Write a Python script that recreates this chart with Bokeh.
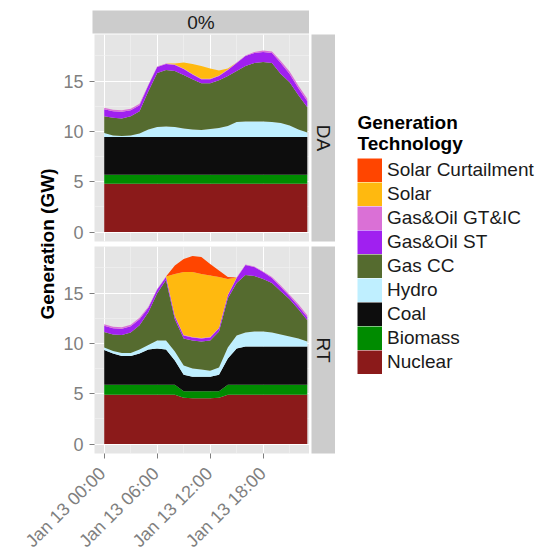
from math import pi
from bokeh.plotting import figure
from bokeh.models import (ColumnDataSource, Range1d, FixedTicker, Legend, LegendItem,
                          Label, Spacer, Grid)
from bokeh.layouts import row, column
from bokeh.embed import file_html
from bokeh.resources import INLINE

FONT = "Liberation Sans"

# ---------------- data ----------------
hours = [0, 1, 2, 3, 4, 5, 6, 7, 8, 9, 10, 11, 12, 13, 14, 15, 16, 17, 18, 19, 20, 21, 22, 23]
tick_hours = [0, 6, 12, 18]
tick_labels = ["Jan 13 00:00", "Jan 13 06:00", "Jan 13 12:00", "Jan 13 18:00"]

technologies = ["Nuclear", "Biomass", "Coal", "Hydro", "Gas CC", "Gas&Oil ST",
                "Gas&Oil GT&IC", "Solar", "Solar Curtailment"]
keys = ["nuclear", "biomass", "coal", "hydro", "gascc", "st", "gt", "solar", "curt"]
colors = ["#8B1A1A", "#008B00", "#0D0D0D", "#BFEFFF", "#556B2F", "#A020F0",
          "#DA70D6", "#FFB90F", "#FF4500"]

# Day-ahead (DA), GW
da_nuclear = [4.8, 4.8, 4.8, 4.8, 4.8, 4.8, 4.8, 4.8, 4.8, 4.8, 4.8, 4.8,
              4.8, 4.8, 4.8, 4.8, 4.8, 4.8, 4.8, 4.8, 4.8, 4.8, 4.8, 4.8]
da_biomass = [0.9, 0.9, 0.9, 0.9, 0.9, 0.9, 0.9, 0.9, 0.9, 0.9, 0.9, 0.9,
              0.9, 0.9, 0.9, 0.9, 0.9, 0.9, 0.9, 0.9, 0.9, 0.9, 0.9, 0.9]
da_coal = [3.75, 3.75, 3.75, 3.75, 3.75, 3.75, 3.75, 3.75, 3.75, 3.75, 3.75, 3.75,
           3.75, 3.75, 3.75, 3.75, 3.75, 3.75, 3.75, 3.75, 3.75, 3.75, 3.75, 3.75]
da_hydro = [0.4, 0.15, 0.1, 0.15, 0.35, 0.75, 1.0, 1.05, 1.0, 0.85, 0.75, 0.7,
            0.8, 0.9, 1.1, 1.5, 1.55, 1.55, 1.55, 1.5, 1.4, 1.15, 0.75, 0.45]
da_gascc = [1.65, 1.75, 1.75, 1.9, 2.2, 3.8, 5.35, 5.6, 5.55, 5.3, 5.0, 4.65,
            4.55, 4.75, 4.95, 5.05, 5.5, 5.8, 5.9, 5.85, 4.85, 4.3, 3.4, 2.5]
da_st = [0.7, 0.65, 0.65, 0.6, 0.6, 0.6, 0.6, 0.6, 0.6, 0.6, 0.45, 0.4,
         0.4, 0.4, 0.6, 0.8, 1.0, 1.0, 1.0, 1.0, 1.1, 0.8, 0.7, 0.6]
da_gt = [0.15, 0.15, 0.15, 0.15, 0.15, 0.05, 0.05, 0.05, 0.05, 0.05, 0.05, 0.05,
         0.05, 0.05, 0.05, 0.05, 0.05, 0.1, 0.15, 0.15, 0.2, 0.25, 0.25, 0.25]
da_solar = [0, 0, 0, 0, 0, 0, 0, 0, 0.1, 0.6, 1.0, 1.25,
            1.0, 0.5, 0.1, 0, 0, 0, 0, 0, 0, 0, 0, 0]
da_curt = [0, 0, 0, 0, 0, 0, 0, 0, 0, 0, 0, 0,
           0, 0, 0, 0, 0, 0, 0, 0, 0, 0, 0, 0]

# Real-time (RT), GW
rt_nuclear = [4.9, 4.9, 4.9, 4.9, 4.9, 4.9, 4.9, 4.9, 4.9, 4.6, 4.55, 4.55,
              4.55, 4.6, 4.9, 4.9, 4.9, 4.9, 4.9, 4.9, 4.9, 4.9, 4.9, 4.9]
rt_biomass = [1.0, 1.0, 1.0, 1.0, 1.0, 1.0, 1.0, 1.0, 1.0, 0.65, 0.7, 0.7,
              0.7, 0.65, 1.0, 1.0, 1.0, 1.0, 1.0, 1.0, 1.0, 1.0, 1.0, 1.0]
rt_coal = [3.45, 3.1, 2.85, 2.85, 3.1, 3.5, 3.6, 3.5, 2.4, 1.65, 1.45, 1.45,
           1.45, 1.65, 2.6, 3.6, 3.8, 3.8, 3.8, 3.8, 3.8, 3.8, 3.8, 3.8]
rt_hydro = [0.25, 0.25, 0.3, 0.3, 0.4, 0.45, 0.8, 0.9, 0.9, 0.9, 0.8, 0.7,
            0.6, 0.7, 1.1, 1.3, 1.4, 1.5, 1.5, 1.4, 1.2, 1.0, 0.8, 0.5]
rt_gascc = [1.55, 1.65, 1.8, 2.05, 2.4, 3.25, 4.7, 6.0, 3.2, 2.7, 2.8, 2.8,
            3.0, 3.6, 4.9, 5.2, 5.7, 5.5, 5.2, 4.9, 4.3, 3.7, 2.9, 2.1]
rt_st = [0.6, 0.6, 0.6, 0.6, 0.6, 0.45, 0.35, 0.3, 0.3, 0.3, 0.3, 0.3,
         0.3, 0.3, 0.3, 0.5, 1.0, 0.9, 0.7, 0.5, 0.4, 0.3, 0.3, 0.3]
rt_gt = [0.15, 0.15, 0.15, 0.15, 0.15, 0.1, 0.05, 0.05, 0.05, 0.05, 0.05, 0.05,
         0.05, 0.05, 0.05, 0.05, 0.05, 0.05, 0.05, 0.1, 0.15, 0.15, 0.2, 0.2]
rt_solar = [0, 0, 0, 0, 0, 0, 0, 0, 4.15, 6.25, 6.45, 6.35,
            6.1, 5.05, 1.55, 0, 0, 0, 0, 0, 0, 0, 0, 0]
rt_curt = [0, 0, 0, 0, 0, 0, 0, 0, 0.85, 1.3, 1.6, 1.7,
           1.15, 0.65, 0.2, 0, 0, 0, 0, 0, 0, 0, 0, 0]

da_src = ColumnDataSource(dict(hour=hours, nuclear=da_nuclear, biomass=da_biomass, coal=da_coal,
                               hydro=da_hydro, gascc=da_gascc, st=da_st, gt=da_gt,
                               solar=da_solar, curt=da_curt))
rt_src = ColumnDataSource(dict(hour=hours, nuclear=rt_nuclear, biomass=rt_biomass, coal=rt_coal,
                               hydro=rt_hydro, gascc=rt_gascc, st=rt_st, gt=rt_gt,
                               solar=rt_solar, curt=rt_curt))

# ---------------- styling constants ----------------
PANEL_BG = "#E5E5E5"
STRIP_BG = "#CCCCCC"
TICK_COL = "#7F7F7F"
TEXT_COL = "#1A1A1A"

x_range = Range1d(-1.1, 23.25)
y_range = Range1d(-0.935, 19.635)
yticker = FixedTicker(ticks=[0, 5, 10, 15], minor_ticks=[2.5, 7.5, 12.5, 17.5])
xticker = FixedTicker(ticks=tick_hours, minor_ticks=[3, 9, 15, 21])


def bare(width, height, **kw):
    f = figure(width=width, height=height, output_backend="svg", toolbar_location=None,
               x_axis_location=None, y_axis_location=None,
               x_range=kw.pop("x_range", Range1d(0, 1)), y_range=kw.pop("y_range", Range1d(0, 1)),
               min_border_left=kw.pop("left", 0), min_border_right=kw.pop("right", 0),
               min_border_top=kw.pop("top", 0), min_border_bottom=kw.pop("bottom", 0))
    f.outline_line_color = None
    f.border_fill_color = "white"
    f.background_fill_color = kw.pop("bg", "white")
    for g in f.grid:
        g.visible = False
    return f


def make_panel(src, height, bottom, with_ticks):
    p = figure(width=249, height=height, x_range=x_range, y_range=y_range,
               x_axis_location="below" if with_ticks else None,
               output_backend="svg", toolbar_location=None,
               min_border_left=32, min_border_right=0, min_border_top=0,
               min_border_bottom=bottom)
    p.background_fill_color = PANEL_BG
    p.border_fill_color = "white"
    p.outline_line_color = None
    if len(p.xgrid) == 0:
        p.add_layout(Grid(dimension=0, ticker=xticker))
    p.xgrid.ticker = xticker
    p.ygrid.ticker = yticker
    for g in list(p.xgrid) + list(p.ygrid):
        g.grid_line_color = "white"
        g.grid_line_width = 1
        g.minor_grid_line_color = "#F2F2F2"
        g.minor_grid_line_width = 0.6
    axes = list(p.yaxis) + (list(p.xaxis) if with_ticks else [])
    for ax in axes:
        ax.axis_line_color = None
        ax.major_tick_line_color = TICK_COL
        ax.major_tick_out = 5
        ax.major_tick_in = 0
        ax.minor_tick_line_color = None
    p.yaxis.ticker = yticker
    p.yaxis.major_label_standoff = 6
    p.yaxis.major_label_text_font = FONT
    p.yaxis.major_label_text_font_size = "18px"
    p.yaxis.major_label_text_color = TICK_COL
    if with_ticks:
        # tick marks attached to the panel; the labels are drawn by the axis row below
        p.xaxis.ticker = xticker
        p.xaxis.major_label_standoff = 0
        p.xaxis.major_label_text_font_size = "0px"
        p.xaxis.major_label_text_alpha = 0
    p.varea_stack(stackers=keys, x="hour", color=colors, source=src)
    return p


da = make_panel(da_src, 212, 5, False)
rt = make_panel(rt_src, 217, 10, True)

# x tick labels (bottom axis of the facet grid)
xf = figure(width=309, height=94, x_range=x_range, y_range=Range1d(0, 1),
            y_axis_location=None, output_backend="svg", toolbar_location=None,
            min_border_left=92, min_border_right=0, min_border_top=0, min_border_bottom=93)
xf.outline_line_color = None
xf.background_fill_color = "white"
xf.border_fill_color = "white"
for g in xf.grid:
    g.visible = False
xf.xaxis.ticker = xticker
xf.xaxis.major_label_overrides = {h: lab for h, lab in zip(tick_hours, tick_labels)}
xf.xaxis.major_label_orientation = pi / 4
xf.xaxis.axis_line_color = None
xf.xaxis.major_tick_line_color = None
xf.xaxis.major_tick_out = 0
xf.xaxis.major_tick_in = 0
xf.xaxis.minor_tick_line_color = None
xf.xaxis.major_label_standoff = 3
xf.xaxis.major_label_text_font = FONT
xf.xaxis.major_label_text_font_size = "18px"
xf.xaxis.major_label_text_color = TICK_COL

# strips
strip_top = bare(217, 34, top=10, bottom=1, bg=STRIP_BG)
strip_top.add_layout(Label(x=0.5, y=0.5, text="0%", text_align="center", text_baseline="middle",
                           text_font=FONT, text_font_size="19px", text_color=TEXT_COL))
strip_da = bare(26, 212, left=2, bottom=5, bg=STRIP_BG)
strip_da.add_layout(Label(x=0.5, y=0.5, text="DA", angle=-pi / 2, text_align="center",
                          text_baseline="middle", text_font=FONT, text_font_size="19px",
                          text_color=TEXT_COL))
strip_rt = bare(26, 217, left=2, bottom=10, bg=STRIP_BG)
strip_rt.add_layout(Label(x=0.5, y=0.5, text="RT", angle=-pi / 2, text_align="center",
                          text_baseline="middle", text_font=FONT, text_font_size="19px",
                          text_color=TEXT_COL))

MID_H = 429

# y axis title
ylab = bare(60, MID_H)
ylab.add_layout(Label(x=47, y=219.5, x_units="screen", y_units="screen", text="Generation (GW)",
                      angle=pi / 2, text_align="center", text_baseline="middle",
                      text_font=FONT, text_font_size="19px", text_font_style="bold",
                      text_color="black"))

# legend: keys are thick lines over the RT data, kept outside this box's visible range,
# so each key is a full 25x24 colour block like the ggplot keys
lf = bare(212, MID_H, x_range=Range1d(-60, -59))
items = []
for name, key, col in zip(technologies, keys, colors):
    r = lf.line(x="hour", y=key, source=rt_src, line_color=col, line_width=24, line_cap="butt")
    items.append(LegendItem(label=name, renderers=[r]))
items.reverse()
legend = Legend(items=items, location=(22, 89), orientation="vertical",
                glyph_width=25, glyph_height=24, label_height=24, spacing=0,
                padding=0, margin=0, label_standoff=5,
                border_line_color=None, background_fill_alpha=0,
                label_text_font=FONT, label_text_font_size="19px",
                label_text_color=TEXT_COL)
lf.add_layout(legend)
lf.add_layout(Label(x=22, y=341, x_units="screen", y_units="screen", text="Generation",
                    text_font=FONT, text_font_size="19px", text_font_style="bold",
                    text_color="black", text_baseline="alphabetic"))
lf.add_layout(Label(x=22, y=320, x_units="screen", y_units="screen", text="Technology",
                    text_font=FONT, text_font_size="19px", text_font_style="bold",
                    text_color="black", text_baseline="alphabetic"))

top_row = row(Spacer(width=92, height=34), strip_top, Spacer(width=238, height=34))
mid_row = row(ylab, column(da, rt), column(strip_da, strip_rt), lf)
bot_row = row(xf, Spacer(width=238, height=94))
layout = column(top_row, mid_row, bot_row)

open("out.html", "w").write(file_html(layout, INLINE))
